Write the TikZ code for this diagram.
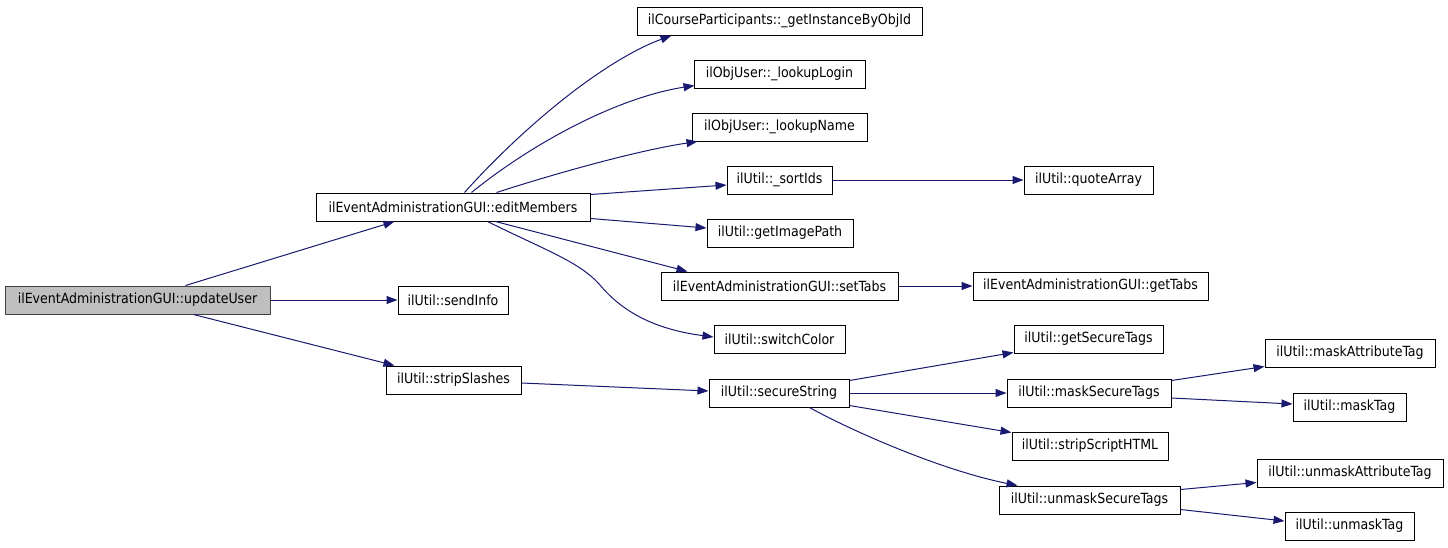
\documentclass[tikz,border=0pt]{standalone}
\usepackage{fontspec}
\setmainfont{DejaVu Sans Condensed}
\usetikzlibrary{arrows.meta,calc}
\definecolor{edgeblue}{HTML}{191970}
\definecolor{curgray}{HTML}{BFBFBF}
\begin{document}
\begin{tikzpicture}[x=0.75pt,y=-0.75pt,
  box/.style={draw=black, line width=0.75pt, fill=white, minimum height=21pt, inner sep=0pt, font=\fontsize{10.5}{12}\selectfont},
  cur/.style={box, fill=curgray, draw=black!75},
  edge/.style={draw=edgeblue, line width=0.75pt, -{Triangle[length=8.25pt,width=6pt]}}]
\useasboundingbox[fill=white] (0,0) rectangle (1448,547);
% column 0
\node[cur, minimum width=198.75pt] (uu) at (137.5,300) {ilEventAdministrationGUI::updateUser};
% column 1
\node[box, minimum width=205.5pt] (em) at (453,207) {ilEventAdministrationGUI::editMembers};
\node[box, minimum width=82.5pt] (si) at (453,300) {ilUtil::sendInfo};
\node[box, minimum width=101.25pt] (ss) at (453.5,380) {ilUtil::stripSlashes};
% column 2
\node[box, minimum width=213.75pt] (gi) at (779.5,21) {ilCourseParticipants::\_getInstanceByObjId};
\node[box, minimum width=128.25pt] (ll) at (779.5,74) {ilObjUser::\_lookupLogin};
\node[box, minimum width=131.25pt] (ln) at (779.5,127) {ilObjUser::\_lookupName};
\node[box, minimum width=78.75pt] (sid) at (779.5,180) {ilUtil::\_sortIds};
\node[box, minimum width=109.5pt] (gip) at (780,233) {ilUtil::getImagePath};
\node[box, minimum width=177.75pt] (st) at (779.5,286) {ilEventAdministrationGUI::setTabs};
\node[box, minimum width=98.25pt] (sc) at (779.5,339) {ilUtil::switchColor};
\node[box, minimum width=105pt] (sstr) at (779,393) {ilUtil::secureString};
% column 3
\node[box, minimum width=96.75pt] (qa) at (1088.5,180) {ilUtil::quoteArray};
\node[box, minimum width=176.25pt] (gt) at (1090.5,286) {ilEventAdministrationGUI::getTabs};
\node[box, minimum width=111.75pt] (gst) at (1088.5,339) {ilUtil::getSecureTags};
\node[box, minimum width=123pt] (mst) at (1089,393) {ilUtil::maskSecureTags};
\node[box, minimum width=117pt] (ssh) at (1090,446) {ilUtil::stripScriptHTML};
\node[box, minimum width=135.75pt] (ust) at (1089.5,500) {ilUtil::unmaskSecureTags};
% column 4
\node[box, minimum width=127.5pt] (mat) at (1350,353) {ilUtil::maskAttributeTag};
\node[box, minimum width=84.75pt] (mt) at (1349.5,407) {ilUtil::maskTag};
\node[box, minimum width=139.5pt] (uat) at (1350,473) {ilUtil::unmaskAttributeTag};
\node[box, minimum width=96.75pt] (ut) at (1349.5,526) {ilUtil::unmaskTag};
% edges from updateUser
\draw[edge] ($(uu.north west)+(181,0)$) -- ($(em.south west)+(79,0)$);
\draw[edge] (uu.east) -- (si.west);
\draw[edge] ($(uu.south west)+(189,0)$) -- ($(ss.north west)+(9,0)$);
% edges from editMembers
\draw[edge] ($(em.north west)+(149,0)$) .. controls (525,125) and (605,60) .. ($(gi.south west)+(35,0)$);
\draw[edge] ($(em.north west)+(156,0)$) .. controls (530,145) and (615,98) .. ($(ll.south west)+(1,-3)$);
\draw[edge] ($(em.north west)+(181,0)$) .. controls (560,172) and (640,150) .. ($(ln.south west)+(6,0)$);
\draw[edge] ($(em.north east)+(0,2)$) -- ($(sid.west)+(0,5)$);
\draw[edge] ($(em.south east)+(0,-3)$) -- ($(gip.west)+(0,-5)$);
\draw[edge] ($(em.south west)+(180,0)$) -- ($(st.north west)+(27,0)$);
\draw[edge] ($(em.south west)+(172,0)$) .. controls (545,250) and (580,262) .. (600,285) .. controls (625,315) and (660,330) .. ($(sc.west)+(0,-2)$);
% column 2 to 3
\draw[edge] (sid.east) -- (qa.west);
\draw[edge] (st.east) -- (gt.west);
\draw[edge] ($(ss.east)+(0,3)$) -- ($(sstr.west)+(0,-2)$);
\draw[edge] ($(sstr.north east)+(0,2)$) -- ($(gst.south west)+(0,-1)$);
\draw[edge] (sstr.east) -- (mst.west);
\draw[edge] ($(sstr.south east)+(0,-2)$) -- ($(ssh.north west)+(0,1)$);
\draw[edge] ($(sstr.south west)+(101,0)$) .. controls (850,430) and (940,470) .. ($(ust.north west)+(19,0)$);
% column 3 to 4
\draw[edge] ($(mst.north east)+(0,2)$) -- ($(mat.south west)+(0,-1)$);
\draw[edge] ($(mst.east)+(0,5)$) -- ($(mt.west)+(0,-3)$);
\draw[edge] ($(ust.north east)+(0,4)$) -- ($(uat.south west)+(0,-5)$);
\draw[edge] ($(ust.south east)+(0,-5)$) -- ($(ut.west)+(0,-5)$);
\end{tikzpicture}
\end{document}
